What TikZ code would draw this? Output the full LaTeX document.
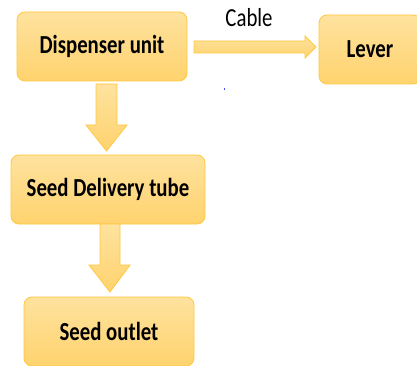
\documentclass[tikz,border=0pt]{standalone}
\usepackage{fontspec}
\setmainfont{Carlito}
\definecolor{boxtop}{HTML}{FEE29E}
\definecolor{boxbot}{HTML}{FFD36E}
\definecolor{boxline}{HTML}{FFC83D}
\tikzset{
  box/.style={draw=boxline, line width=0.8pt, rounded corners=8pt, top color=boxtop, bottom color=boxbot},
  arr/.style={draw=boxline, line width=0.8pt, top color=boxtop, bottom color=boxbot},
  lbl/.style={inner sep=0pt, font=\fontsize{26}{28}\selectfont\bfseries},
}
\newcommand{\sq}[1]{\scalebox{0.8}[1]{#1}}
\begin{document}
\begin{tikzpicture}[x=1pt,y=-1pt]
\useasboundingbox (0,0) rectangle (417,366);
\clip (0,0) rectangle (417,366);
% boxes
\draw[box] (17,12) rectangle (187,81);
\node[lbl] (disp) at (102,46.5) {\sq{Dispenser unit}};
\draw[box] (319,15) rectangle (421,84);
\node[lbl] (lever) at (370,49.5) {\sq{Lever}};
\draw[box] (11,155) rectangle (205,224);
\node[lbl] (tube) at (108,189.5) {\sq{Seed Delivery tube}};
\draw[box] (24,297) rectangle (194,366);
\node[lbl] (outlet) at (109,331.5) {\sq{Seed outlet}};
% arrows
\draw[arr] (194,41) -- (305,41) -- (305,36) -- (316,47) -- (305,58) -- (305,53) -- (194,53) -- cycle;
\node[inner sep=0pt, font=\fontsize{26}{28}\selectfont] (cable) at (249,18) {\sq{Cable}};
\draw[arr] (96,84) -- (117,84) -- (117,125) -- (127,125) -- (106.5,151) -- (86,125) -- (96,125) -- cycle;
\draw[arr] (100,224) -- (120,224) -- (120,265) -- (130,265) -- (110,292) -- (89,265) -- (100,265) -- cycle;
% stray dot
\fill[blue!70] (223.5,88) rectangle (225,90);
\end{tikzpicture}
\end{document}
